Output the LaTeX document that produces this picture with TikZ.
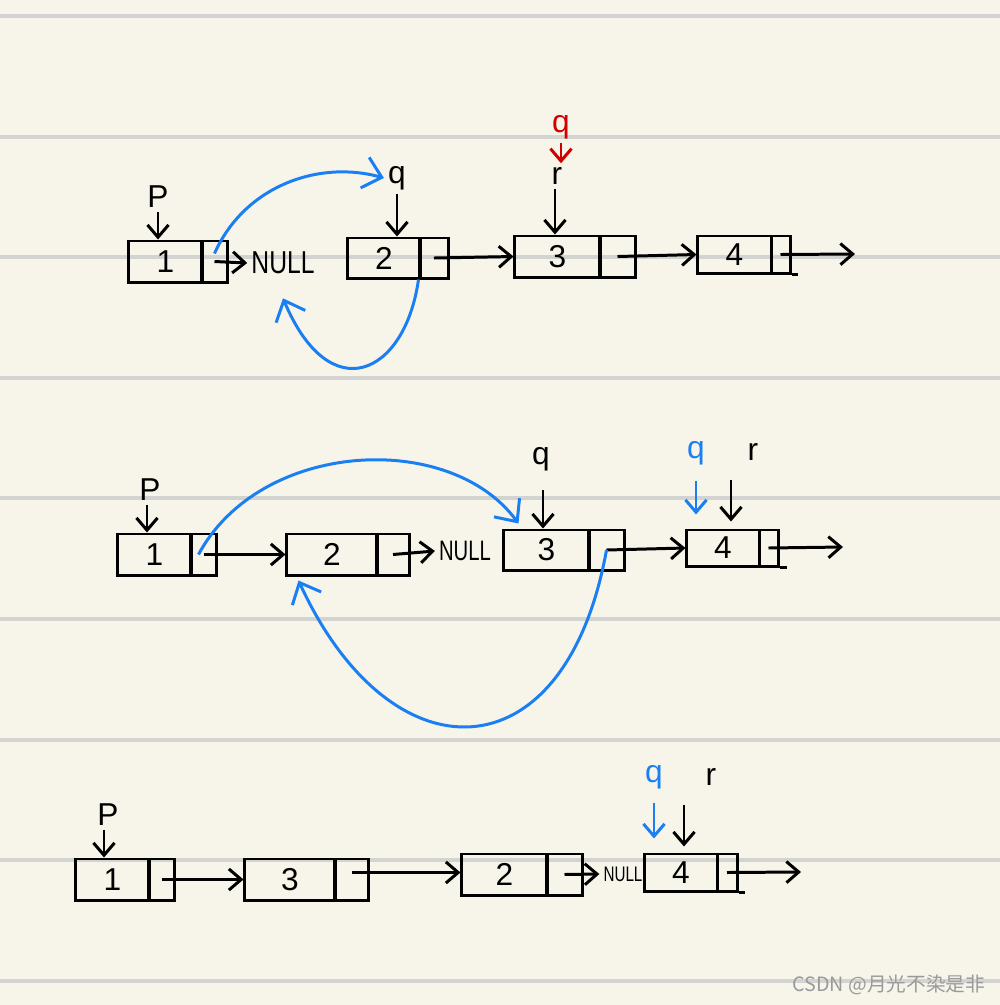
\documentclass[tikz,border=0pt]{standalone}
\usepackage{fontspec}
\setmainfont{Liberation Sans}
\newfontfamily\cjk{Noto Sans CJK SC}
\usetikzlibrary{arrows.meta}
\definecolor{paper}{HTML}{F7F5E9}
\definecolor{rule}{HTML}{D3D3D1}
\definecolor{qblue}{HTML}{1A7FF2}
\definecolor{qred}{HTML}{D00000}
\definecolor{wm}{HTML}{9A9A9A}
\begin{document}
\begin{tikzpicture}[x=0.01cm,y=-0.01cm,
  cell/.style={draw, rectangle, inner sep=0pt, line width=0.85pt, font=\fontsize{9}{10}\selectfont},
  lab/.style={inner sep=1pt, font=\fontsize{9}{10}\selectfont},
  ln/.style={line width=0.85pt, -{Straight Barb[length=3.5pt,width=6pt]}},
  plain/.style={line width=0.85pt},
  blu/.style={draw=qblue, line width=0.85pt, -{Straight Barb[length=5pt,width=9pt]}},
  ruled/.style={draw=rule, line width=0.9pt}]
\useasboundingbox (0,0) rectangle (1000,1005);
\fill[paper] (0,0) rectangle (1000,1005);
\foreach \yy in {16,137,257,378,498,619,740,860,981}
  \draw[ruled] (0,\yy) -- (1000,\yy);

% ---------- Row 1 ----------
\node[cell, minimum width=0.73cm, minimum height=0.41cm] (d11) at (165.5,261.5) {1};
\node[cell, minimum width=0.25cm, minimum height=0.41cm] (p11) at (214.5,261.5) {};
\node[lab] (null1) at (283,263) {\scalebox{0.78}[1]{NULL}};
\node[cell, minimum width=0.72cm, minimum height=0.40cm] (d12) at (384,258) {2};
\node[cell, minimum width=0.28cm, minimum height=0.40cm] (p12) at (434,258) {};
\node[cell, minimum width=0.85cm, minimum height=0.41cm] (d13) at (557.5,256.5) {3};
\node[cell, minimum width=0.35cm, minimum height=0.41cm] (p13) at (617.5,256.5) {};
\node[cell, minimum width=0.73cm, minimum height=0.37cm] (d14) at (734.5,254.5) {4};
\node[cell, minimum width=0.19cm, minimum height=0.37cm] (p14) at (780.5,254.5) {};
\coordinate (e14) at (855,254);
\draw[plain] (p14.south east) -- ++(6,0);

\node[lab] (lp1) at (158,197) {P};
\node[lab] (lq1) at (397,178) {q};
\node[lab, text=qred] (lqr1) at (561,127) {q};
\node[lab] (lr1) at (557,176) {r};

\draw[ln] (lp1.south) -- (lp1.south |- d11.north);
\draw[ln] (lq1.south) -- (lq1.south |- d12.north);
\draw[ln, draw=qred] (lqr1.south) -- (lqr1.south |- lr1.north);
\draw[ln] ([xshift=-0.02cm]lr1.south) -- ([xshift=-0.02cm]lr1.south |- d13.north);
\draw[ln] (p11.center) -- (null1.west);
\draw[ln] (p12.center) -- (d13.west);
\draw[ln] (p13.center) -- (d14.west);
\draw[ln] (p14.center) -- (e14);

\draw[blu] ([yshift=0.08cm]p11.center) .. controls (245,185) and (320,160) .. (lq1.west);
\draw[blu] (p12.south west) .. controls (405,375) and (330,410) .. ([yshift=-0.2cm]null1.south);

% ---------- Row 2 ----------
\node[cell, minimum width=0.73cm, minimum height=0.41cm] (d21) at (154.5,554.5) {1};
\node[cell, minimum width=0.25cm, minimum height=0.41cm] (p21) at (203.5,554.5) {};
\node[cell, minimum width=0.90cm, minimum height=0.41cm] (d22) at (332,554.5) {2};
\node[cell, minimum width=0.32cm, minimum height=0.41cm] (p22) at (393,554.5) {};
\node[lab, font=\fontsize{8}{9}\selectfont] (null2) at (465,551) {\scalebox{0.72}[1]{NULL}};
\node[cell, minimum width=0.85cm, minimum height=0.40cm] (d23) at (546.5,550) {3};
\node[cell, minimum width=0.35cm, minimum height=0.40cm] (p23) at (606.5,550) {};
\node[cell, minimum width=0.72cm, minimum height=0.36cm] (d24) at (723,548) {4};
\node[cell, minimum width=0.19cm, minimum height=0.36cm] (p24) at (768.5,548) {};
\coordinate (e24) at (843,547);
\draw[plain] (p24.south east) -- ++(7,0);

\node[lab] (lp2) at (150,490) {P};
\node[lab] (lq2) at (541,459) {q};
\node[lab, text=qblue] (lqb2) at (696,453) {q};
\node[lab] (lr2) at (753,452) {r};
\coordinate (aq2) at (543,490);
\coordinate (ar2) at (731,480);

\draw[ln] ([xshift=-0.03cm]lp2.south) -- ([xshift=-0.03cm]lp2.south |- d21.north);
\draw[ln] (aq2) -- (aq2 |- d23.north);
\draw[ln, draw=qblue] ([yshift=-0.12cm]lqb2.south) -- ([yshift=0.14cm]lqb2.south |- d24.north);
\draw[ln] (ar2) -- ([yshift=0.07cm]ar2 |- d24.north);
\draw[ln] (p21.center) -- (d22.west);
\draw[ln] (p22.center) -- (null2.west);
\draw[ln] (p23.center) -- (d24.west);
\draw[ln] (p24.center) -- (e24);

\draw[blu] ([xshift=-0.05cm]p21.center) .. controls (260,440) and (450,430) .. ([xshift=0.16cm,yshift=0.05cm]d23.north west);
\draw[blu] (p23.center) .. controls (565,780) and (390,780) .. ([xshift=0.13cm,yshift=-0.04cm]d22.south west);

% ---------- Row 3 ----------
\node[cell, minimum width=0.73cm, minimum height=0.41cm] (d31) at (112.5,879.5) {1};
\node[cell, minimum width=0.25cm, minimum height=0.41cm] (p31) at (161.5,879.5) {};
\node[cell, minimum width=0.90cm, minimum height=0.41cm] (d32) at (290,879.5) {3};
\node[cell, minimum width=0.33cm, minimum height=0.41cm] (p32) at (351.5,879.5) {};
\node[cell, minimum width=0.85cm, minimum height=0.41cm] (d33) at (504.5,874.5) {2};
\node[cell, minimum width=0.35cm, minimum height=0.41cm] (p33) at (564.5,874.5) {};
\node[lab, font=\fontsize{6}{7}\selectfont] (null3) at (623,874) {\scalebox{0.72}[1]{NULL}};
\node[cell, minimum width=0.72cm, minimum height=0.37cm] (d34) at (681,872.5) {4};
\node[cell, minimum width=0.20cm, minimum height=0.37cm] (p34) at (727,872.5) {};
\coordinate (e34) at (801,872);
\draw[plain] (p34.south east) -- ++(6,0);

\node[lab] (lp3) at (108,815) {P};
\node[lab, text=qblue] (lqb3) at (654,777) {q};
\node[lab] (lr3) at (711,777) {r};
\coordinate (ar3) at (684,805);

\draw[ln] ([xshift=-0.04cm]lp3.south) -- ([xshift=-0.04cm]lp3.south |- d31.north);
\draw[ln, draw=qblue] ([yshift=-0.1cm]lqb3.south) -- ([yshift=0.14cm]lqb3.south |- d34.north);
\draw[ln] (ar3) -- ([yshift=0.06cm]ar3 |- d34.north);
\draw[ln] (p31.center) -- (d32.west);
\draw[ln] ([yshift=0.07cm]p32.center) -- ([yshift=0.07cm]p32.center -| d33.west);
\draw[ln] (p33.center) -- (null3.west);
\draw[ln] (p34.center) -- (e34);

% watermark
\node[text=wm, inner sep=0pt, font=\cjk\fontsize{5.6}{6}\selectfont] (wmark) at (889,985) {CSDN @月光不染是非};
\end{tikzpicture}
\end{document}
